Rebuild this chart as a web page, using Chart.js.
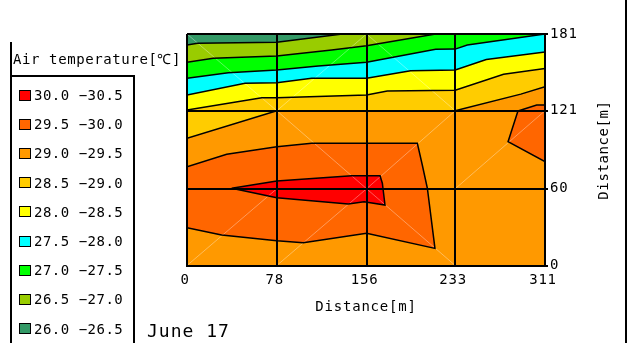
<!DOCTYPE html>
<html>
<head>
<meta charset="utf-8">
<script src="https://cdn.jsdelivr.net/npm/chart.js@4.4.1/dist/chart.umd.min.js"></script>
<style>
  html, body { margin: 0; padding: 0; background: #fff; }
  #wrap { position: relative; width: 629px; height: 343px; overflow: hidden;
          font-family: "DejaVu Sans Mono", monospace; color: #000; }
  #contourChart { position: absolute; left: 0; top: 0; }
  .rule { position: absolute; background: #000; }
  .txt { position: absolute; white-space: nowrap; line-height: 1; }
  .legend-title { left: 13px; top: 52px; font-size: 14px; letter-spacing: 0.6px; }
  .legend-row { position: absolute; left: 19px; height: 16px; display: flex; align-items: center;
                font-size: 14px; letter-spacing: 0.5px; white-space: nowrap; }
  .legend-row i { display: inline-block; width: 10px; height: 9px; border: 1px solid #000;
                  margin-right: 3px; }
  .y-title { left: 603px; top: 150px; font-size: 14px; letter-spacing: 0.6px;
             transform: translate(-50%, -50%) rotate(-90deg); }
  .date { left: 147px; top: 322px; font-size: 18px; letter-spacing: 1px; }
</style>
</head>
<body>
<div id="wrap">
  <canvas id="contourChart" width="629" height="343"></canvas>
  <div class="rule" style="left:10px; top:42px; width:2px; height:301px;"></div>
  <div class="rule" style="left:10px; top:75px; width:125px; height:2px;"></div>
  <div class="rule" style="left:133px; top:75px; width:2px; height:268px;"></div>
  <div class="rule" style="left:625px; top:0px; width:2px; height:343px;"></div>
  <div class="txt legend-title">Air temperature[℃]</div>
  <div id="legend"></div>
  <div class="txt y-title">Distance[m]</div>
  <div class="txt date">June 17</div>
</div>
<script>
const xTicks = [0, 78, 156, 233, 311];
const yTicks = [0, 60, 121, 181];

const bandLabels = ["30.0 −30.5", "29.5 −30.0", "29.0 −29.5", "28.5 −29.0", "28.0 −28.5",
  "27.5 −28.0", "27.0 −27.5", "26.5 −27.0", "26.0 −26.5"];
const bandColors = ["#FF0000", "#FF6600", "#FF9900", "#FFCC00", "#FFFF00",
  "#00FFFF", "#00FF00", "#99CC00", "#339966"];

// contour lines, [x, y] in metres, west to east
const iso290 = [[0, 99.5], [78, 121], [156, 121], [233, 121], [290, 134], [311, 139.8]];
const iso285 = [[0, 121.6], [65, 131.2], [78, 131.2], [156, 133.3], [174, 136.4], [233, 137],
  [275, 149.5], [311, 154]];
const iso280 = [[0, 133.3], [50.4, 142.5], [78, 142.9], [108.3, 146.4], [156, 146.4],
  [194.3, 152.3], [233, 152.9], [260, 161], [311, 167]];
const iso275 = [[0, 146.4], [35.9, 150.7], [78, 152.9], [114, 156], [156, 158.9], [216, 169],
  [233, 169.2], [243.5, 172.4], [311, 181]];
const iso270 = [[0, 158.9], [22.8, 162], [78, 163.8], [125.7, 168.5], [156, 171.8], [216, 181]];
const iso265 = [[0, 172.4], [9.2, 173.7], [78, 174.5], [135, 181]];

// closed areas
const warmWest = [[0, 77.2], [34.5, 86.9], [78, 92.9], [108.3, 95.5], [156, 95.5], [200.1, 95.5],
  [204.4, 78.6], [208.8, 60.4], [215.4, 13.4], [156, 25.2], [101, 17.8], [78, 19.4],
  [30.1, 23.8], [0, 29.6], [0, 77.2]];
const warmEast = [[287.5, 120.8], [303.8, 125.5], [311, 125.5], [311, 81.2], [278.9, 96.8],
  [287.5, 120.8]];
const hotCore = [[38.8, 60.4], [78, 66.1], [143.1, 70.2], [167.7, 70.2], [169.7, 64.3],
  [172, 47.3], [153.8, 49.9], [140.1, 48.1], [78, 53], [38.8, 60.4]];

// faint triangulation edges
const meshEdges = [
  [[0, 0], [78, 60]], [[78, 0], [156, 60]], [[156, 60], [233, 0]],
  [[78, 121], [156, 60]], [[156, 60], [233, 121]], [[233, 60], [311, 121]],
  [[0, 181], [78, 121]], [[78, 121], [156, 181]], [[156, 181], [233, 121]]
];

const legendBox = document.querySelector("#legend");
bandLabels.forEach((label, index) => {
  const row = document.createElement("div");
  row.className = "legend-row";
  row.style.top = `${87 + index * 29.2}px`;
  row.innerHTML = `<i style="background:${bandColors[index]}"></i>${label}`;
  legendBox.appendChild(row);
});

function toPoints(pairs) {
  return pairs.map(([x, y]) => ({ x, y }));
}

function contourSet(pairs, color, region) {
  return {
    data: toPoints(pairs),
    region,
    backgroundColor: color,
    borderColor: "#000000",
    borderWidth: 1.5,
    showLine: true,
    pointRadius: 0,
    fill: false,
    tension: 0,
  };
}

const datasets = [
  contourSet(iso290, bandColors[3], "above"),
  contourSet(iso285, bandColors[4], "above"),
  contourSet(iso280, bandColors[5], "above"),
  contourSet(iso275, bandColors[6], "above"),
  contourSet(iso270, bandColors[7], "above"),
  contourSet(iso265, bandColors[8], "above"),
  contourSet(warmWest, bandColors[1], "closed"),
  contourSet(warmEast, bandColors[1], "closed"),
  contourSet(hotCore, bandColors[0], "closed"),
];
meshEdges.forEach((edge) => {
  datasets.push({
    data: toPoints(edge),
    borderColor: "rgba(255,255,255,0.35)",
    borderWidth: 1,
    showLine: true,
    pointRadius: 0,
    fill: false,
  });
});

const contourFill = {
  id: "contourFill",
  beforeDraw(chart) {
    chart.ctx.letterSpacing = "0.8px";
  },
  beforeDatasetsDraw(chart) {
    const { ctx, chartArea } = chart;
    ctx.save();
    ctx.beginPath();
    ctx.rect(chartArea.left, chartArea.top, chartArea.width, chartArea.height);
    ctx.clip();
    ctx.fillStyle = bandColors[2];
    ctx.fillRect(chartArea.left, chartArea.top, chartArea.width, chartArea.height);
    chart.data.datasets.forEach((dataset, index) => {
      if (!dataset.region) {
        return;
      }
      const points = chart.getDatasetMeta(index).data;
      if (!points.length) {
        return;
      }
      ctx.beginPath();
      points.forEach((point, i) => {
        if (i === 0) {
          ctx.moveTo(point.x, point.y);
        } else {
          ctx.lineTo(point.x, point.y);
        }
      });
      if (dataset.region === "above") {
        ctx.lineTo(points[points.length - 1].x, chartArea.top);
        ctx.lineTo(points[0].x, chartArea.top);
      }
      ctx.closePath();
      ctx.fillStyle = dataset.backgroundColor;
      ctx.fill();
    });
    ctx.restore();
  },
};

Chart.defaults.font.family = "'DejaVu Sans Mono', monospace";
Chart.defaults.font.size = 14;
Chart.defaults.color = "#000000";

new Chart(document.querySelector("#contourChart"), {
  type: "scatter",
  data: { datasets },
  plugins: [contourFill],
  options: {
    responsive: false,
    animation: false,
    devicePixelRatio: 1,
    layout: { padding: { left: 187, top: 34, right: 0, bottom: 0 } },
    plugins: {
      legend: { display: false },
      tooltip: { enabled: false },
    },
    scales: {
      x: {
        type: "linear",
        position: "bottom",
        min: 0,
        max: 311,
        afterBuildTicks(scale) {
          scale.ticks = xTicks.map((value) => ({ value }));
        },
        afterFit(scale) {
          scale.height = 77.5;
        },
        grid: { color: "#000000", lineWidth: 2, drawTicks: false, z: 1 },
        border: { color: "#000000", width: 2, z: 1 },
        ticks: { color: "#000000", padding: 6, labelOffset: -2, autoSkip: false, maxRotation: 0, z: 1 },
        title: {
          display: true,
          text: "Distance[m]",
          color: "#000000",
          padding: { top: 0, bottom: 27.6 },
        },
      },
      y: {
        type: "linear",
        position: "right",
        min: 0,
        max: 181,
        afterBuildTicks(scale) {
          scale.ticks = yTicks.map((value) => ({ value }));
        },
        afterFit(scale) {
          scale.width = 84;
        },
        grid: { color: "#000000", lineWidth: 2, drawTicks: true, tickLength: 3, z: 1 },
        border: { color: "#000000", width: 2, z: 1 },
        ticks: { color: "#000000", padding: 2, autoSkip: false, z: 1 },
      },
    },
  },
});
</script>
</body>
</html>
